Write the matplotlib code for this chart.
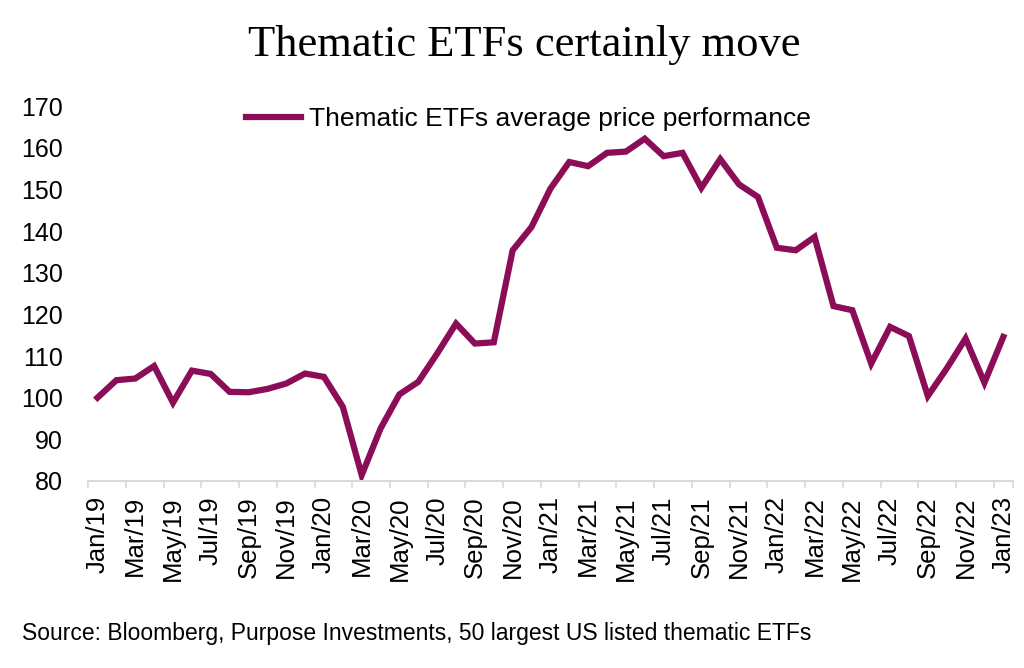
import matplotlib
matplotlib.use("Agg")
import matplotlib.pyplot as plt

# monthly values, Jan/19 .. Jan/23
months = ['Jan', 'Feb', 'Mar', 'Apr', 'May', 'Jun', 'Jul', 'Aug', 'Sep', 'Oct', 'Nov', 'Dec']
labels = [f"{m}/{y}" for y in range(19, 24) for m in months][:49]

values = [100.0, 104.2, 104.6, 107.6, 98.8, 106.5, 105.7, 101.4, 101.3, 102.1,
          103.4, 105.8, 105.0, 97.8, 81.4, 92.6, 100.8, 103.8, 110.6, 117.8,
          113.0, 113.3, 135.4, 141.0, 150.2, 156.6, 155.6, 158.8, 159.1, 162.2,
          158.0, 158.8, 150.4, 157.3, 151.2, 148.2, 136.0, 135.4, 138.6, 122.0,
          121.0, 108.2, 117.0, 114.8, 100.4, 107.0, 114.2, 103.6, 114.6]

color = '#8B0D57'
plt.rcParams['font.family'] = ['Liberation Sans', 'DejaVu Sans']

fig = plt.figure(figsize=(10.24, 6.68), dpi=100)
ax = fig.add_axes([0.086, 0.28, 0.903, 0.561])

x = list(range(len(values)))
ax.plot(x, values, color=color, lw=4.5, solid_joinstyle='miter',
        label='Thematic ETFs average price performance')

ax.set_xlim(-0.5, len(values) - 0.5)
ax.set_ylim(80, 170)
ax.set_yticks(range(80, 171, 10))
ax.tick_params(axis='y', length=0, labelsize=18, pad=18)

ax.set_xticks(x[::2])
ax.set_xticklabels(labels[::2], rotation=90, fontsize=18.5)
ax.set_xticks([i - 0.5 for i in x[::2]] + [len(values) - 0.5], minor=True)
ax.tick_params(axis='x', which='major', length=0, pad=11)
ax.tick_params(axis='x', which='minor', length=5, color='#d9d9d9', width=1.2)

for s in ['top', 'right', 'left']:
    ax.spines[s].set_visible(False)
ax.spines['bottom'].set_color('#d9d9d9')
ax.spines['bottom'].set_linewidth(1.5)

leg = ax.legend(loc='upper center', bbox_to_anchor=(0.476, 1.06), frameon=False,
                fontsize=19, handlelength=2.1, handletextpad=0.3)

fig.text(0.512, 0.932, 'Thematic ETFs certainly move', ha='center', va='center',
         fontsize=32, family=['Liberation Serif', 'DejaVu Serif'])
fig.text(0.021, 0.052, 'Source: Bloomberg, Purpose Investments, 50 largest US listed thematic ETFs',
         ha='left', va='center', fontsize=16.5)

fig.savefig('out.png', dpi=100)
